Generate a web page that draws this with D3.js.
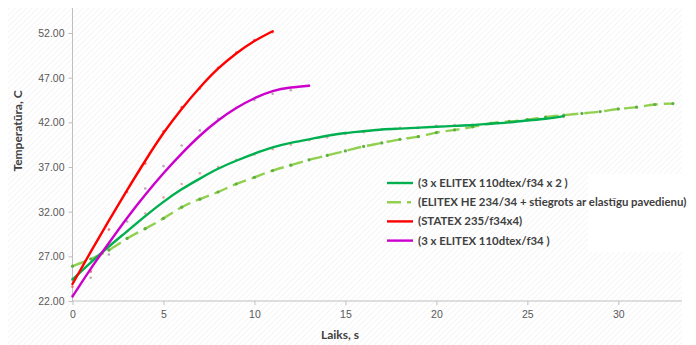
<!DOCTYPE html>
<html>
<head>
<meta charset="utf-8">
<script src="https://cdn.jsdelivr.net/npm/d3@7"></script>
<style>
  body { margin: 0; background: #fff; }
  svg { display: block; font-family: Lato, "Open Sans", sans-serif; }
</style>
</head>
<body>
<div id="chart"></div>
<script>
// chart size
var w = 696;
var h = 345;

// tick labels
var yTicks = [22, 27, 32, 37, 42, 47, 52];
var xTicks = [0, 5, 10, 15, 20, 25, 30];

// series names (legend order)
var names = [
  "(3 x ELITEX 110dtex/f34 x 2 )",
  "(ELITEX HE 234/34 + stiegrots ar elastīgu pavedienu)",
  "(STATEX 235/f34x4)",
  "(3 x ELITEX 110dtex/f34 )"
];

// trend lines, one value per second
var greenTrend = [24.4, 26.3, 28.1, 29.8, 31.5, 33.1, 34.5, 35.7, 36.8, 37.7, 38.5, 39.2, 39.7, 40.1,
  40.5, 40.8, 41.0, 41.2, 41.3, 41.4, 41.5, 41.6, 41.7, 41.85, 42.0, 42.2, 42.4, 42.7];
var redTrend = [23.9, 27.5, 31.0, 34.4, 37.7, 40.8, 43.5, 45.9, 48.0, 49.7, 51.1, 52.2];
var magentaTrend = [22.5, 25.6, 28.5, 31.3, 33.9, 36.3, 38.5, 40.5, 42.2, 43.6, 44.7, 45.5, 45.9, 46.1];

// measured points
var greenPts = [24.5, 25.3, 27.7, 29.8, 31.8, 33.6, 35.1, 36.3, 37.0, 37.8, 38.4, 39.0, 39.5, 40.0,
  40.3, 40.7, 40.9, 41.2, 41.4, 41.4, 41.6, 41.7, 41.7, 41.9, 42.0, 42.3, 42.5, 42.6];
var dashedPts = [25.9, 26.7, 27.7, 29.0, 30.1, 31.25, 32.5, 33.4, 34.2, 35.1, 35.85, 36.6, 37.2, 37.8,
  38.3, 38.8, 39.3, 39.7, 40.1, 40.4, 40.85, 41.15, 41.5, 41.9, 42.1, 42.3, 42.6, 42.8, 43.0, 43.2,
  43.5, 43.7, 44.0, 44.1];
var redPts = [23.6, 25.3, 30.0, 34.2, 37.4, 41.0, 43.7, 45.8, 48.1, 49.8, 51.2, 52.1];
var magentaPts = [22.6, 24.6, 27.2, 30.9, 34.6, 37.1, 39.4, 41.1, 42.4, 43.6, 44.5, 45.2, 45.6, 46.1];

var colGreen = "#00b050", colLight = "#92d050", colRed = "#ff0000", colMag = "#cc00cc";

var xScale = d3.scaleLinear().domain([0, 33.5]).range([72.5, 682]);
var yScale = d3.scaleLinear().domain([22, 54.8]).range([301, 8]);

var chart = d3.select("#chart").append("svg")
  .attr("width", w)
  .attr("height", h);

// faint diagonal hatch like the original
var pat = chart.append("defs").append("pattern")
  .attr("id", "hatch")
  .attr("patternUnits", "userSpaceOnUse")
  .attr("width", 4).attr("height", 4)
  .attr("patternTransform", "rotate(45)");
pat.append("rect").attr("width", 4).attr("height", 4).attr("fill", "#fff");
pat.append("line").attr("x1", 0).attr("y1", 0).attr("x2", 0).attr("y2", 4)
  .attr("stroke", "#efefef").attr("stroke-width", 1.2);

chart.append("rect").attr("x", 8).attr("y", 8).attr("width", 674).attr("height", 337)
  .attr("fill", "url(#hatch)");

// axes
var yAxis = d3.axisLeft(yScale).tickValues(yTicks).tickSize(4).tickFormat(d3.format(".2f"));
var xAxis = d3.axisBottom(xScale).tickValues(xTicks).tickSize(4);

var gy = chart.append("g").attr("transform", "translate(" + xScale(0) + ",0)").call(yAxis);
var gx = chart.append("g").attr("transform", "translate(0," + yScale(22) + ")").call(xAxis);

[gx, gy].forEach(function(g) {
  g.select(".domain").attr("stroke", "#bfbfbf");
  g.selectAll(".tick line").attr("stroke", "#bfbfbf");
  g.selectAll(".tick text").attr("fill", "#595959").style("font-size", "10.5px");
});
gy.select(".domain").attr("d", "M0," + yScale(22) + "V8");
gy.selectAll(".tick text").attr("x", -8);
gx.select(".domain").attr("d", "M" + xScale(0) + ",0H682");
gx.selectAll(".tick text").attr("y", 10);

chart.append("text")
  .attr("transform", "translate(18," + 131 + ") rotate(-90)")
  .attr("dy", "0.35em")
  .style("text-anchor", "middle")
  .style("font-size", "12px")
  .style("font-weight", "bold")
  .attr("fill", "#404040")
  .text("Temperatūra, C");

chart.append("text")
  .attr("x", 340).attr("y", 339)
  .style("text-anchor", "middle")
  .style("font-size", "12px")
  .style("font-weight", "bold")
  .attr("fill", "#404040")
  .text("Laiks, s");

function drawLine(data, color, dash) {
  var p = chart.append("path")
    .datum(data)
    .attr("fill", "none")
    .attr("stroke", color)
    .attr("stroke-width", 2.4)
    .attr("stroke-linecap", "round")
    .attr("d", d3.line()
      .curve(d3.curveNatural)
      .x(function(d, i) { return xScale(i); })
      .y(function(d) { return yScale(d); }));
  if (dash) p.attr("stroke-dasharray", dash).attr("stroke-linecap", "butt");
}

function drawPoints(data, color, r) {
  chart.append("g").selectAll("circle")
    .data(data)
    .enter().append("circle")
    .attr("cx", function(d, i) { return xScale(i); })
    .attr("cy", function(d) { return yScale(d); })
    .attr("r", r)
    .attr("fill", color);
}

drawPoints(greenPts, "#e8a8a0", 1.3);
drawPoints(redPts, "#f07070", 1.3);
drawPoints(magentaPts, "#b8a8b8", 1.3);

drawLine(dashedPts, colLight, "14,6");
drawPoints(dashedPts, "#5cb040", 1.6);
drawLine(greenTrend, colGreen);
drawLine(redTrend, colRed);
drawLine(magentaTrend, colMag);

// legend
chart.append("rect").attr("x", 588).attr("y", 174).attr("width", 108).attr("height", 78).attr("fill", "#fff");
var legColors = [colGreen, colLight, colRed, colMag];
var legend = chart.append("g");
names.forEach(function(n, i) {
  var yy = 183 + i * 19.2;
  var ln = legend.append("line")
    .attr("x1", 387).attr("x2", 413)
    .attr("y1", yy).attr("y2", yy)
    .attr("stroke", legColors[i])
    .attr("stroke-width", 2.4);
  if (i == 1) ln.attr("stroke-dasharray", "14,6,4,6");
  legend.append("text")
    .attr("x", 418).attr("y", yy)
    .attr("dy", "0.35em")
    .style("font-size", "11.4px")
    .style("font-weight", "bold")
    .attr("fill", "#404040")
    .text(n);
});
</script>
</body>
</html>
